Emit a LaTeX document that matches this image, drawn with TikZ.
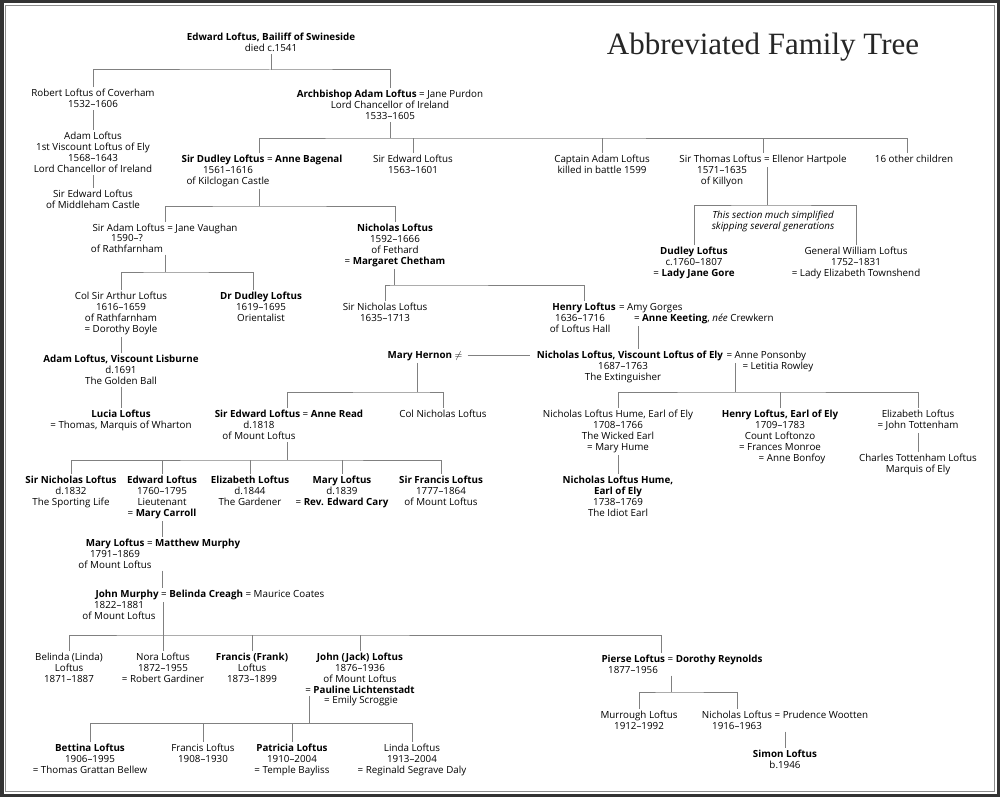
\documentclass[tikz,border=0pt]{standalone}
\usepackage{fontspec}
\usepackage{tikz}
\newfontfamily\treefont{Open Sans}
\newfontfamily\titlefont{Liberation Serif}

\begin{document}
\begin{tikzpicture}[x=1pt, y=-1pt,
    txt/.style={inner sep=2pt, font=\treefont\fontsize{9.8}{11}\selectfont, text=black},
    nd/.style={txt, align=center, anchor=north, yshift=5.9pt},
    sp/.style={txt, anchor=base west, xshift=-1pt},
    tree/.style={draw=black!50, line width=1pt}]
        \useasboundingbox (0,0) rectangle (1000,797);
        \fill[black!80] (0,0) rectangle (1000,797);
        \fill[white] (3.5,3.5) rectangle (996.5,793.5);
        \draw[black!45, line width=1.5pt] (5.5,5.5) rectangle (994.5,791.5);

        \node[anchor=base, inner sep=0pt, font=\titlefont\fontsize{31}{31}\selectfont, text=black!85] (title) at (763,55) {Abbreviated Family Tree};

        \node[nd] (edward) at (271,37) {\textbf{Edward Loftus, Bailiff of Swineside}\\died c.1541};
        \node[nd] (robert) at (93,93) {Robert Loftus of Coverham\\1532–1606};
        \node[nd] (adamv) at (93,136) {Adam Loftus\\1st Viscount Loftus of Ely\\1568–1643\\Lord Chancellor of Ireland};
        \node[nd] (edwardm) at (93,194) {Sir Edward Loftus\\of Middleham Castle};
        \node[nd] (arch) at (390,94) {\textbf{Archbishop Adam Loftus} = Jane Purdon\\Lord Chancellor of Ireland\\1533–1605};

        \node[nd] (dudley) at (262,159) {\textbf{Sir Dudley Loftus} = \textbf{Anne Bagenal}};
        \node[nd] (dudleyI) at (228,170) {1561–1616\\of Kilclogan Castle};
        \node[nd] (edwardb) at (413,159) {Sir Edward Loftus\\1563–1601};
        \node[nd] (captain) at (602,159) {Captain Adam Loftus\\killed in battle 1599};
        \node[nd] (thomas) at (763,159) {Sir Thomas Loftus = Ellenor Hartpole};
        \node[nd] (thomasI) at (722,170) {1571–1635\\of Killyon};
        \node[nd] (others) at (914,159) {16 other children};

        \node[nd] (note) at (773,215) {\itshape This section much simplified\\\itshape skipping several generations};
        \node[nd] (dudleyl) at (694,251) {\textbf{Dudley Loftus}\\c.1760–1807\\= \textbf{Lady Jane Gore}};
        \node[nd] (william) at (856,251) {General William Loftus\\1752–1831\\= Lady Elizabeth Townshend};

        \node[nd] (sadam) at (165,228) {Sir Adam Loftus = Jane Vaughan};
        \node[nd] (sadamI) at (127,238) {1590–?\\of Rathfarnham};
        \node[nd] (nicholas) at (395,228) {\textbf{Nicholas Loftus}\\1592–1666\\of Fethard\\= \textbf{Margaret Chetham}};
        \node[nd] (arthur) at (121,296) {Col Sir Arthur Loftus\\1616–1659\\of Rathfarnham\\= Dorothy Boyle};
        \node[nd] (drdudley) at (261,296) {\textbf{Dr Dudley Loftus}\\1619–1695\\Orientalist};
        \node[nd] (lisburne) at (121,359) {\textbf{Adam Loftus, Viscount Lisburne}\\d.1691\\The Golden Ball};
        \node[nd] (lucia) at (121,414) {\textbf{Lucia Loftus}\\= Thomas, Marquis of Wharton};

        \node[nd] (snich) at (385,307) {Sir Nicholas Loftus\\1635–1713};
        \node[nd] (henry) at (584,307) {\textbf{Henry Loftus}};
        \node[sp] (amy) at (henry.base east) {= Amy Gorges};
        \node[nd] (henryI) at (580,318) {1636–1716\\of Loftus Hall};
        \node[sp] (keeting) at ([xshift=16pt, yshift=-11pt]amy.base west) {= \textbf{Anne Keeting}, \emph{née} Crewkern};

        \node[nd] (hernon) at (425,355) {\textbf{Mary Hernon} $\neq$};
        \node[nd] (nicv) at (630,355) {\textbf{Nicholas Loftus, Viscount Loftus of Ely}};
        \node[sp] (ponsonby) at (nicv.base east) {= Anne Ponsonby};
        \node[sp] (rowley) at ([xshift=17pt, yshift=-11pt]ponsonby.base west) {= Letitia Rowley};
        \node[nd] (nicvI) at (623,366) {1687–1763\\The Extinguisher};

        \node[nd] (edwardml) at (289,414) {\textbf{Sir Edward Loftus} = \textbf{Anne Read}};
        \node[nd] (edwardmlI) at (259,425) {d.1818\\of Mount Loftus};
        \node[nd] (colnich) at (443,414) {Col Nicholas Loftus};
        \node[nd] (humew) at (618,414) {Nicholas Loftus Hume, Earl of Ely\\1708–1766\\The Wicked Earl\\= Mary Hume};
        \node[nd] (humei) at (618,480) {\textbf{Nicholas Loftus Hume,}\\\textbf{Earl of Ely}\\1738–1769\\The Idiot Earl};
        \node[nd] (henrye) at (780,414) {\textbf{Henry Loftus, Earl of Ely}\\1709–1783\\Count Loftonzo\\= Frances Monroe\\\hspace*{24pt}= Anne Bonfoy};
        \node[nd] (elizt) at (918,414) {Elizabeth Loftus\\= John Tottenham};
        \node[nd] (charles) at (918,458) {Charles Tottenham Loftus\\Marquis of Ely};

        \node[nd] (snich2) at (71,480) {\textbf{Sir Nicholas Loftus}\\d.1832\\The Sporting Life};
        \node[nd] (edwardl) at (162,480) {\textbf{Edward Loftus}\\1760–1795\\Lieutenant\\= \textbf{Mary Carroll}};
        \node[nd] (elizl) at (250,480) {\textbf{Elizabeth Loftus}\\d.1844\\The Gardener};
        \node[nd] (maryl) at (342,480) {\textbf{Mary Loftus}\\d.1839\\= \textbf{Rev. Edward Cary}};
        \node[nd] (francis) at (441,480) {\textbf{Sir Francis Loftus}\\1777–1864\\of Mount Loftus};

        \node[nd] (marym) at (163,543) {\textbf{Mary Loftus} = \textbf{Matthew Murphy}};
        \node[nd] (marymI) at (115,554) {1791–1869\\of Mount Loftus};
        \node[nd] (john) at (210,594) {\textbf{John Murphy} = \textbf{Belinda Creagh} = Maurice Coates};
        \node[nd] (johnI) at (119,605) {1822–1881\\of Mount Loftus};

        \node[nd] (belinda) at (69,657) {Belinda (Linda)\\Loftus\\1871–1887};
        \node[nd] (nora) at (163,657) {Nora Loftus\\1872–1955\\= Robert Gardiner};
        \node[nd] (frank) at (252,657) {\textbf{Francis (Frank)}\\Loftus\\1873–1899};
        \node[nd] (jack) at (360,657) {\textbf{John (Jack) Loftus}\\1876–1936\\of Mount Loftus\\= \textbf{Pauline Lichtenstadt}};
        \node[nd] (scroggie) at (361,700) {= Emily Scroggie};
        \node[nd] (pierse) at (682,659) {\textbf{Pierse Loftus} = \textbf{Dorothy Reynolds}};
        \node[nd] (pierseI) at (633,670) {1877–1956};
        \node[nd] (murrough) at (639,715) {Murrough Loftus\\1912–1992};
        \node[nd] (nicp) at (785,715) {Nicholas Loftus = Prudence Wootten};
        \node[nd] (nicpI) at (737,726) {1916–1963};
        \node[nd] (simon) at (785,754) {\textbf{Simon Loftus}\\b.1946};

        \node[nd] (bettina) at (90,748) {\textbf{Bettina Loftus}\\1906–1995\\= Thomas Grattan Bellew};
        \node[nd] (francisl) at (203,748) {Francis Loftus\\1908–1930};
        \node[nd] (patricia) at (292,748) {\textbf{Patricia Loftus}\\1910–2004\\= Temple Bayliss};
        \node[nd] (linda) at (412,748) {Linda Loftus\\1913–2004\\= Reginald Segrave Daly};

        \coordinate (f0) at (271,70);
        \coordinate (f1) at (390,138);
        \coordinate (f2) at (259,206);
        \coordinate (f3) at (767,205);
        \coordinate (f4) at (165,272);
        \coordinate (f5) at (394,285);
        \coordinate (f6) at (417,392);
        \coordinate (f7) at (735,392);
        \coordinate (f8) at (287,460);
        \coordinate (f9) at (163,635);
        \coordinate (f10) at (309,723);
        \coordinate (f11) at (671,692);
        \coordinate (k1) at (638,340);

        \draw[tree] (edward.south) -- (f0);
        \draw[tree] (robert.north) |- (f0) -| (arch.north);
        \draw[tree] (robert.south) -- (adamv.north);
        \draw[tree] (adamv.south) -- (edwardm.north);

        \draw[tree] (arch.south) -- (f1);
        \draw[tree] (dudley.north -| f2) |- (f1) -| ([xshift=-7pt]others.north);
        \draw[tree] (f1 -| edwardb.north) -- (edwardb.north);
        \draw[tree] (f1 -| captain.north) -- (captain.north);
        \draw[tree] (f1 -| thomas.north) -- (thomas.north);

        \draw[tree] (dudleyI.south -| f2) -- (f2);
        \draw[tree] (sadam.north) |- (f2) -| (nicholas.north);
        \draw[tree] (thomas.south -| f3) -- (f3);
        \draw[tree] (dudleyl.north) |- (f3) -| (william.north);

        \draw[tree] (sadamI.south -| f4) -- (f4);
        \draw[tree] (arthur.north) |- (f4) -| ([xshift=-8pt]drdudley.north);
        \draw[tree] (arthur.south) -- (lisburne.north);
        \draw[tree] (lisburne.south) -- (lucia.north);

        \draw[tree] (nicholas.south -| f5) -- (f5);
        \draw[tree] (snich.north) |- (f5) -| (henry.north);
        \draw[tree] (keeting.south -| k1) -- (nicv.north -| k1);
        \draw[tree, shorten <=3pt, shorten >=5pt] (hernon.east) -- (hernon.east -| nicv.west);

        \draw[tree] (hernon.south -| f6) -- (f6);
        \draw[tree] (edwardml.north -| f8) |- (f6) -| (colnich.north);
        \draw[tree] (ponsonby.south -| f7) -- (f7);
        \draw[tree] (humew.north) |- (f7) -| (elizt.north);
        \draw[tree] (f7 -| henrye.north) -- (henrye.north);
        \draw[tree] (humew.south) -- (humei.north);
        \draw[tree] (elizt.south) -- (charles.north);

        \draw[tree] (edwardmlI.south -| f8) -- (f8);
        \draw[tree] (snich2.north) |- (f8) -| (francis.north);
        \draw[tree] (f8 -| edwardl.north) -- (edwardl.north);
        \draw[tree] (f8 -| elizl.north) -- (elizl.north);
        \draw[tree] (f8 -| maryl.north) -- (maryl.north);
        \draw[tree] (edwardl.south) -- (marym.north -| edwardl.south);
        \draw[tree] (marymI.south -| edwardl) -- (john.north -| edwardl);

        \draw[tree] (john.south -| f9) -- (f9);
        \draw[tree] (belinda.north) |- (f9) -| ([xshift=-21pt]pierse.north);
        \draw[tree] (f9 -| nora.north) -- (nora.north);
        \draw[tree] (f9 -| frank.north) -- (frank.north);
        \draw[tree] (f9 -| jack.north) -- (jack.north);

        \draw[tree] (jack.south -| f10) -- (f10);
        \draw[tree] (bettina.north) |- (f10) -| (linda.north);
        \draw[tree] (f10 -| francisl.north) -- (francisl.north);
        \draw[tree] (f10 -| patricia.north) -- (patricia.north);

        \draw[tree] (pierseI.south -| f11) -- (f11);
        \draw[tree] (murrough.north) |- (f11) -| (nicp.north -| nicpI);
        \draw[tree] (nicpI.south -| simon) -- (simon.north);
    \end{tikzpicture}
\end{document}
